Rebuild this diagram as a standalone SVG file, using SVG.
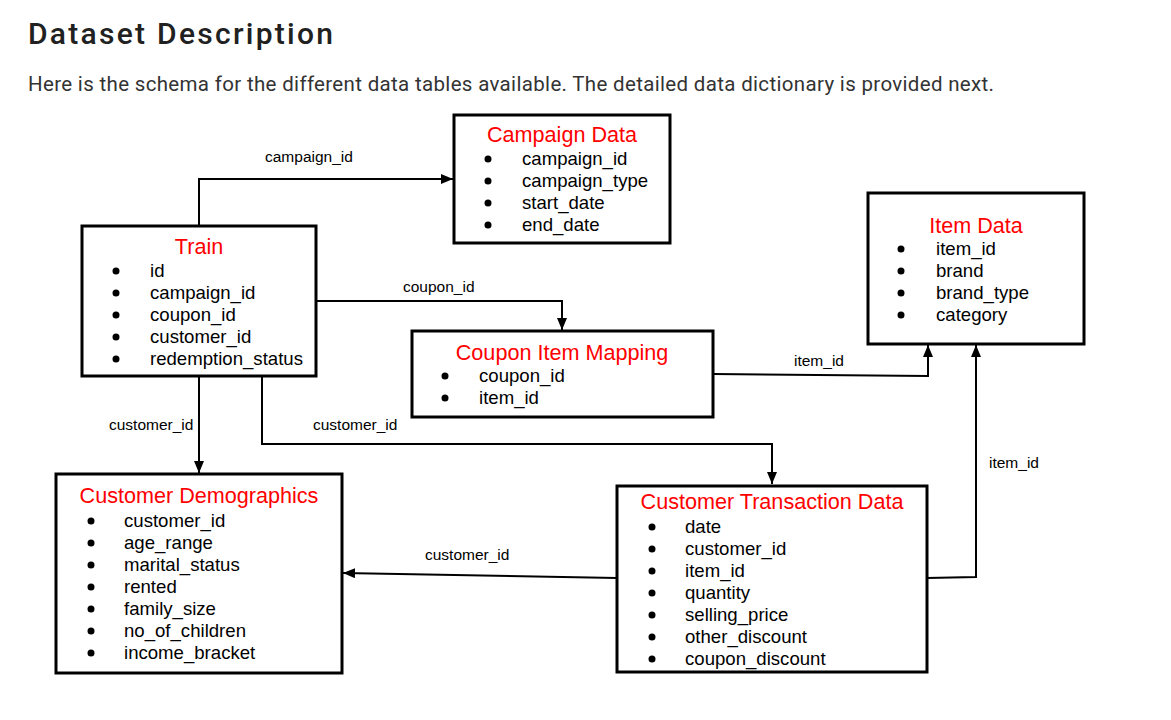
<svg xmlns="http://www.w3.org/2000/svg" width="1171" height="720" viewBox="0 0 1171 720">
<style>
.h{font-family:Roboto,"Liberation Sans",sans-serif;font-weight:500;font-size:30px;fill:#212121}
.sub{font-family:Roboto,"Liberation Sans",sans-serif;font-size:20.5px;fill:#333}
.box{fill:#fff;stroke:#000;stroke-width:3}
.t{font-family:"Liberation Sans",Arial,sans-serif;font-size:21.6px;fill:#ff0000;text-anchor:middle}
.f{font-family:"Liberation Sans",Arial,sans-serif;font-size:18.6px;fill:#000}
.b{fill:#000}
.c{fill:none;stroke:#000;stroke-width:2}
.l{font-family:"Liberation Sans",Arial,sans-serif;font-size:15.5px;fill:#000}
</style>
<defs>
<marker id="ah" markerUnits="userSpaceOnUse" markerWidth="12" markerHeight="10" refX="12" refY="5" orient="auto">
<path d="M0,0 L12,5 L0,10 z" fill="#000"/>
</marker>
</defs>
<rect width="1171" height="720" fill="#fff"/>
<text class="h" x="28" y="44" textLength="305" lengthAdjust="spacing">Dataset Description</text>
<text class="sub" x="28" y="91" textLength="966" lengthAdjust="spacing">Here is the schema for the different data tables available. The detailed data dictionary is provided next.</text>

<g id="connectors">
<path class="c" d="M199,226 V179 H453" marker-end="url(#ah)"/>
<path class="c" d="M316,301 H562 V330" marker-end="url(#ah)"/>
<path class="c" d="M713,374 L928,376 V345" marker-end="url(#ah)"/>
<path class="c" d="M927,578 L976,577 V345" marker-end="url(#ah)"/>
<path class="c" d="M199,377 V473" marker-end="url(#ah)"/>
<path class="c" d="M262,377 V444 H772 V484" marker-end="url(#ah)"/>
<path class="c" d="M617,578 L343,573" marker-end="url(#ah)"/>
<text class="l" x="265" y="162">campaign_id</text>
<text class="l" x="403" y="292">coupon_id</text>
<text class="l" x="794" y="366">item_id</text>
<text class="l" x="989" y="468">item_id</text>
<text class="l" x="109" y="430">customer_id</text>
<text class="l" x="313" y="430">customer_id</text>
<text class="l" x="425" y="560">customer_id</text>
</g>

<g id="train">
<rect class="box" x="82" y="226" width="234" height="150"/>
<text class="t" x="199" y="254">Train</text>
<circle class="b" cx="116" cy="271" r="3.5"/><text class="f" x="150" y="277">id</text>
<circle class="b" cx="116" cy="293" r="3.5"/><text class="f" x="150" y="299">campaign_id</text>
<circle class="b" cx="116" cy="315" r="3.5"/><text class="f" x="150" y="321">coupon_id</text>
<circle class="b" cx="116" cy="337" r="3.5"/><text class="f" x="150" y="343">customer_id</text>
<circle class="b" cx="116" cy="359" r="3.5"/><text class="f" x="150" y="365">redemption_status</text>
</g>

<g id="campaign">
<rect class="box" x="454" y="115" width="216" height="128"/>
<text class="t" x="562" y="142">Campaign Data</text>
<circle class="b" cx="488" cy="159" r="3.5"/><text class="f" x="522" y="165">campaign_id</text>
<circle class="b" cx="488" cy="181" r="3.5"/><text class="f" x="522" y="187">campaign_type</text>
<circle class="b" cx="488" cy="203" r="3.5"/><text class="f" x="522" y="209">start_date</text>
<circle class="b" cx="488" cy="225" r="3.5"/><text class="f" x="522" y="231">end_date</text>
</g>

<g id="coupon">
<rect class="box" x="412" y="331" width="301" height="86"/>
<text class="t" x="562" y="360">Coupon Item Mapping</text>
<circle class="b" cx="445" cy="376" r="3.5"/><text class="f" x="479" y="382">coupon_id</text>
<circle class="b" cx="445" cy="398" r="3.5"/><text class="f" x="479" y="404">item_id</text>
</g>

<g id="item">
<rect class="box" x="868" y="193" width="216" height="151"/>
<text class="t" x="976" y="233">Item Data</text>
<circle class="b" cx="901" cy="249" r="3.5"/><text class="f" x="936" y="255">item_id</text>
<circle class="b" cx="901" cy="271" r="3.5"/><text class="f" x="936" y="277">brand</text>
<circle class="b" cx="901" cy="293" r="3.5"/><text class="f" x="936" y="299">brand_type</text>
<circle class="b" cx="901" cy="315" r="3.5"/><text class="f" x="936" y="321">category</text>
</g>

<g id="demographics">
<rect class="box" x="56" y="474" width="286" height="199"/>
<text class="t" x="199" y="503">Customer Demographics</text>
<circle class="b" cx="91" cy="521" r="3.5"/><text class="f" x="124" y="527">customer_id</text>
<circle class="b" cx="91" cy="543" r="3.5"/><text class="f" x="124" y="549">age_range</text>
<circle class="b" cx="91" cy="565" r="3.5"/><text class="f" x="124" y="571">marital_status</text>
<circle class="b" cx="91" cy="587" r="3.5"/><text class="f" x="124" y="593">rented</text>
<circle class="b" cx="91" cy="609" r="3.5"/><text class="f" x="124" y="615">family_size</text>
<circle class="b" cx="91" cy="631" r="3.5"/><text class="f" x="124" y="637">no_of_children</text>
<circle class="b" cx="91" cy="653" r="3.5"/><text class="f" x="124" y="659">income_bracket</text>
</g>

<g id="transaction">
<rect class="box" x="617" y="486" width="310" height="186"/>
<text class="t" x="772" y="509">Customer Transaction Data</text>
<circle class="b" cx="652" cy="527" r="3.5"/><text class="f" x="685" y="533">date</text>
<circle class="b" cx="652" cy="549" r="3.5"/><text class="f" x="685" y="555">customer_id</text>
<circle class="b" cx="652" cy="571" r="3.5"/><text class="f" x="685" y="577">item_id</text>
<circle class="b" cx="652" cy="593" r="3.5"/><text class="f" x="685" y="599">quantity</text>
<circle class="b" cx="652" cy="615" r="3.5"/><text class="f" x="685" y="621">selling_price</text>
<circle class="b" cx="652" cy="637" r="3.5"/><text class="f" x="685" y="643">other_discount</text>
<circle class="b" cx="652" cy="659" r="3.5"/><text class="f" x="685" y="665">coupon_discount</text>
</g>
</svg>
